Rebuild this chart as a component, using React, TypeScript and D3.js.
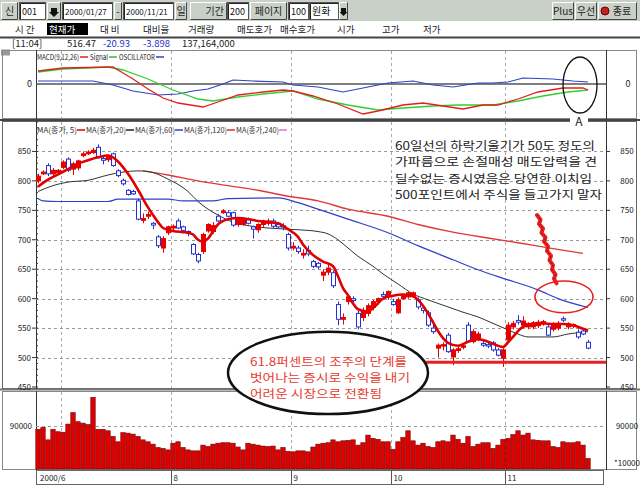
import React from 'react';
import * as d3 from 'd3';

// ---------- data ----------
const openP = [800,812,826,812,814,823,837,820,822,843,846,848,857,838,836,846,817,801,784,782,766,733,740,728,705,686,712,720,732,722,714,692,675,680,715,714,740,746,746,746,726,726,735,722,717,726,728,732,726,724,709,686,686,674,682,663,660,640,645,644,590,565,595,600,575,568,575,585,595,607,603,595,576,600,603,604,598,584,576,550,516,520,538,501,512,518,555,527,532,524,522,525,513,499,530,552,563,555,552,552,554,558,552,548,550,566,552,554,543,545,526];
const highP = [812,818,830,822,820,835,840,832,836,850,852,856,862,842,845,848,820,804,786,785,770,745,748,730,708,706,724,726,736,724,716,694,678,712,728,730,744,752,750,748,738,738,738,724,728,734,736,736,730,728,712,696,690,684,690,666,662,650,658,648,595,575,604,604,580,585,592,598,602,612,614,600,602,608,612,612,602,588,580,556,524,526,542,516,518,524,560,548,544,528,526,528,516,516,560,562,572,570,560,562,564,564,556,560,562,570,560,558,548,548,530];
const lowP = [796,810,808,808,812,820,815,810,818,840,844,846,838,828,832,824,806,792,775,776,733,728,735,718,686,678,708,716,718,714,706,674,660,676,712,710,730,744,738,722,722,724,726,702,712,722,724,720,720,716,682,682,676,668,672,652,650,630,640,618,555,556,590,594,548,562,570,580,590,600,598,588,574,598,600,602,582,575,552,540,500,512,508,487,508,514,525,524,528,518,516,510,502,484,526,548,556,552,548,548,550,554,536,544,546,560,548,550,532,538,514];
const closeP = [808,815,812,818,818,832,818,829,834,846,849,852,841,835,842,826,809,795,777,778,735,736,743,725,690,702,722,723,720,716,711,676,664,709,726,724,732,749,740,725,735,735,728,718,726,732,732,723,722,722,686,689,680,677,676,655,654,645,652,622,565,568,603,597,552,580,588,595,600,604,612,590,598,605,610,610,586,580,555,544,521,522,510,513,515,520,527,544,540,521,520,513,504,513,555,558,560,562,558,559,560,561,538,556,558,564,557,556,535,540,516];
const volume = [83000,87000,61000,83000,78000,77000,94000,118000,99000,96000,93000,150000,83000,83000,80000,68000,57000,76000,75000,73000,68000,61000,57000,52000,45000,43000,40000,54000,57000,45000,40000,38000,38000,50000,47000,52000,54000,55000,55000,54000,46000,40000,54000,52000,50000,48000,47000,48000,40000,45000,37000,36000,38000,38000,36000,46000,52000,54000,55000,61000,57000,59000,60000,61000,50000,55000,71000,64000,62000,57000,57000,41000,57000,66000,80000,59000,50000,54000,47000,45000,57000,59000,57000,71000,62000,54000,68000,47000,52000,55000,55000,43000,50000,62000,64000,72000,80000,71000,75000,61000,60000,59000,59000,47000,45000,57000,55000,55000,57000,50000,22000];

// moving averages: [day index, value]
const ma5: [number, number][] = [[0,790],[2,802],[4,811],[6,820],[8,829],[10,835],[12,840],[14,843],[15,840],[16,833],[18,812],[20,785],[22,755],[23,742],[24,730],[25,720],[27,715],[29,713],[30,712],[31,709],[32,700],[33,697],[34,702],[35,714],[36,726],[38,735],[40,737],[42,735],[44,732],[46,730],[48,728],[50,718],[52,705],[53,692],[55,674],[57,663],[59,655],[60,638],[61,618],[62,606],[63,592],[64,582],[66,578],[67,584],[69,600],[71,605],[73,607],[75,604],[76,598],[77,588],[78,575],[79,560],[80,545],[81,533],[82,525],[84,520],[86,527],[88,531],[90,527],[92,520],[93,518],[94,526],[95,535],[96,545],[97,552],[99,557],[101,558],[103,557],[105,557],[107,555],[109,549],[110,546]];
const ma20: [number, number][] = [[0,782],[3,792],[6,798],[10,801],[14,810],[17,815],[20,817],[22,816],[26,803],[30,782],[32,765],[34,752],[36,742],[39,730],[42,724],[46,720],[52,717],[56,714],[58,710],[60,700],[62,686],[64,672],[67,655],[69,642],[72,625],[75,608],[78,598],[82,586],[85,577],[88,569],[91,558],[94,547],[96,540],[98,535],[103,535],[106,540],[110,544]];
const ma60: [number, number][] = [[0,770],[1,766],[4,765],[14,765],[16,769],[26,769],[29,766],[35,766],[38,770],[48,771],[52,763],[56,752],[62,735],[70,712],[76,690],[83,666],[88,649],[94,632],[100,615],[104,600],[110,585]];
const ma120: [number, number][] = [[21,817],[26,810],[32,800],[38,792],[44,784],[50,774],[56,766],[62,752],[70,740],[76,726],[83,713],[90,703],[96,695],[103,685],[109,677]];

// MACD panel: [day index, value]
const macdLine: [number, number][] = [[0,13],[5,16],[15,17],[16,14],[19,5],[22,-5],[25,-14],[28,-19],[33,-23],[36,-18],[40,-11],[45,-8],[49,-6],[51,-7],[55,-12],[60,-20],[65,-30],[68,-27],[73,-21],[77,-19],[81,-22],[85,-25],[89,-21],[92,-21],[96,-15],[100,-8],[105,-4],[109,-4],[110,-6]];
const signalLine: [number, number][] = [[0,12],[5,15],[14,17],[17,14],[22,5],[27,-6],[32,-15],[35,-17],[40,-13],[45,-10],[51,-7],[56,-15],[62,-21],[68,-26],[73,-24],[79,-22],[84,-21],[91,-21],[96,-17],[101,-12],[106,-8],[110,-6]];
const oscLine: [number, number][] = [[0,3],[11,3],[15,-1],[19,-7],[24,-11],[28,-10],[31,-7],[34,-5],[37,0],[39,4],[43,3],[49,2],[51,-1],[56,-3],[61,-8],[66,-3],[70,1],[75,3],[79,-1],[83,-3],[88,1],[91,1],[94,2],[97,6],[103,5],[107,3],[110,2]];

const priceTicks = [850, 800, 750, 700, 650, 600, 550, 500, 450];
const monthGridIdx = [5, 27, 51, 71, 94];
const monthLabelIdx = [0, 27, 51, 71, 94];
const monthLabelText = ['2000/6', '8', '9', '10', '11'];
const maLegend = ['MA(종가, 5)', 'MA(종가,20)', 'MA(종가,60)', 'MA(종가,120)', 'MA(종가,240)'];
const maLegendColor = ['#e00000', '#222222', '#3040c8', '#e03030', '#e070c0'];
const macdLegend = ['MACD(9,12,26)', 'Signal', 'OSCILLATOR'];
const macdLegendColor = ['#e02020', '#30c030', '#3040c8'];

const headerLabels = ['시 간', '현재가', '대 비', '대비율', '거래량', '매도호가', '매수호가', '시가', '고가', '저가'];
const headerX = [15, 49, 100, 143, 188, 237, 280, 337, 382, 423];
const quoteValues = ['[11:04]', '516.47', '-20.93', '-3.898', '137,164,000'];
const quoteX = [12, 67, 103, 143, 182];

const noteLines = ['60일선의 하락기울기가 50도 정도의', '가파름으로 손절매성 매도압력을 견', '딜수없는 증시였음은 당연한 이치임', '500포인트에서 주식을 들고가지 말자'];
const noteLinePrice = [852.5, 824.5, 796.4, 768.4];
const noteWidths = [200, 202, 197, 207];
const redNoteLines = ['61.8퍼센트의 조주의 단계를', '벗어나는 증시로 수익을 내기', '어려운 시장으로 전환됨'];
const redNotePrice = [486.5, 458.5, 430.5];
const redNoteWidths = [157, 160, 132];
const supportPrice = 492;
const scribble: [number, number][] = [[99.8,742],[100.5,734],[100.2,727],[101.0,719],[100.7,712],[101.5,704],[101.2,697],[102.0,689],[101.8,681],[102.6,673],[102.3,665],[103.0,657],[102.8,649],[103.5,641],[103.2,634],[103.7,626]];

const RED = '#e80000';
const BLUE = '#2233d0';
const FONT = "'Noto Sans CJK KR', 'Noto Sans', sans-serif";
const TB = '#c8d0c8';

function Btn({ x, y, w, h, label, anchor = 'middle' }: any) {
  return (
    <g>
      <rect x={x} y={y} width={w} height={h} fill={TB} />
      <path d={`M${x + 0.5},${y + h - 0.5}V${y + 0.5}H${x + w - 0.5}`} stroke="#fff" fill="none" />
      <path d={`M${x + 0.5},${y + h - 0.5}H${x + w - 0.5}V${y + 0.5}`} stroke="#444" fill="none" />
      {label ? (
        <text x={anchor === 'middle' ? x + w / 2 : x + w - 3} y={y + h / 2 + 4} fontSize={10} textAnchor={anchor} fill="#222" fontFamily={FONT}>{label}</text>
      ) : null}
    </g>
  );
}

function Inp({ x, y, w, h, text, fs = 10 }: any) {
  return (
    <g>
      <rect x={x + 0.5} y={y + 0.5} width={w - 1} height={h - 1} fill="#fff" stroke="#555" />
      <path d={`M${x + 1.5},${y + h - 1}V${y + 1.5}H${x + w - 1}`} stroke="#222" fill="none" />
      <text x={x + 3} y={y + h / 2 + 4} fontSize={fs} fill="#111" fontFamily={FONT}>{text}</text>
    </g>
  );
}

export default function App() {
  const x = d3.scaleLinear().domain([0, 110]).range([38, 588]);
  const yP = d3.scaleLinear().domain([450, 900]).range([387, 122]);
  const yM = d3.scaleLinear().domain([-34, 34]).range([118, 50]);
  const yV = d3.scaleLinear().domain([0, 90000]).range([469, 426]);
  const L = 36, R = 606;

  const lineP = d3.line<[number, number]>().x(d => x(d[0])).y(d => yP(d[1])).curve(d3.curveMonotoneX);
  const lineM = d3.line<[number, number]>().x(d => x(d[0])).y(d => yM(d[1])).curve(d3.curveLinear);
  const lineS = d3.line<[number, number]>().x(d => x(d[0])).y(d => yP(d[1])).curve(d3.curveLinear);

  const minorTicks = d3.range(450, 901, 10);

  return (
    <svg width={640} height={492} style={{ position: 'absolute', left: 0, top: 0 }} fontFamily={FONT}>
      <rect width={640} height={492} fill="#fff" />

      {/* toolbar */}
      <rect x={0} y={0} width={640} height={21} fill={TB} />
      <Btn x={1} y={2} w={17} h={18} label="신" />
      <Inp x={19} y={2} w={27} h={18} text="001" fs={9} />
      <Btn x={47} y={2} w={14} h={18} />
      <path d="M51,8h6v4h2l-5,5l-5,-5h2z" fill="#111" />
      <Inp x={62} y={2} w={51} h={18} text="2000/01/27" fs={8} />
      <Btn x={114} y={2} w={8} h={18} label="-" />
      <Inp x={123} y={2} w={51} h={18} text="2000/11/21" fs={8} />
      <Btn x={175} y={2} w={12} h={18} label="일" />
      <Btn x={190} y={2} w={37} h={18} label="기간" anchor="end" />
      <Inp x={227} y={2} w={22} h={18} text="200" fs={9} />
      <Btn x={250} y={2} w={37} h={18} label="페이지" />
      <Inp x={288} y={2} w={21} h={18} text="100" fs={9} />
      <Inp x={309} y={2} w={30} h={18} text="원화" fs={10} />
      <Btn x={339} y={2} w={9} h={18} />
      <path d="M341,8h5v4h1.5l-4,4l-4,-4h1.5z" fill="#111" />
      <Btn x={552} y={2} w={22} h={18} label="Plus" />
      <Btn x={575} y={2} w={22} h={18} label="우선" />
      <Btn x={598} y={2} w={39} h={18} />
      <circle cx={605} cy={11} r={4} fill="#c02020" stroke="#600" />
      <text x={622} y={15} fontSize={10} textAnchor="middle" fill="#222">종료</text>

      {/* header rows */}
      <rect x={47} y={23} width={41} height={12} fill="#000" />
      {headerLabels.map((t, i) => (
        <text key={t} x={headerX[i]} y={33} fontSize={9.5} fill={i === 1 ? '#fff' : '#222'}>{t}</text>
      ))}
      <line x1={0} x2={640} y1={37.5} y2={37.5} stroke="#444" strokeWidth={2} />
      {quoteValues.map((t, i) => (
        <text key={t} x={quoteX[i]} y={47} fontSize={9.5} fill={i === 2 || i === 3 ? '#2030d0' : '#222'}>{t}</text>
      ))}

      {/* panel frames */}
      <rect x={1} y={49.5} width={9} height={6} fill="#999" />
      <rect x={2.5} y={50.5} width={634} height={68} fill="none" stroke="#888" />
      <rect x={2.5} y={121.5} width={634} height={267} fill="none" stroke="#666" />
      <line x1={0} x2={640} y1={120} y2={120} stroke="#444" strokeWidth={2} />
      <line x1={0} x2={640} y1={389.5} y2={389.5} stroke="#777" strokeWidth={2} />
      <rect x={2.5} y={391.5} width={634} height={78} fill="none" stroke="#888" />
      <rect x={L + 0.5} y={470.5} width={567} height={14} fill="none" stroke="#666" />
      {[[50, 119], [121, 389], [391, 470]].map(([a, b], k) => (
        <g key={k}>
          <line x1={L + 0.5} x2={L + 0.5} y1={a} y2={b} stroke="#333" />
          <line x1={R + 0.5} x2={R + 0.5} y1={a} y2={b} stroke="#333" />
        </g>
      ))}

      {/* vertical month grid */}
      {monthGridIdx.map(i => (
        <g key={i}>
          {[[51, 118], [122, 388], [392, 469]].map(([a, b], k) => (
            <line key={k} x1={Math.round(x(i) - 2.5) + 0.5} x2={Math.round(x(i) - 2.5) + 0.5} y1={a} y2={b} stroke="#aaa" strokeDasharray="3,3" />
          ))}
        </g>
      ))}

      {/* MACD panel */}
      <line x1={L} x2={R} y1={yM(0)} y2={yM(0)} stroke="#555" strokeWidth={1.5} />
      <text x={32} y={yM(0) + 3} fontSize={9} textAnchor="end" fill="#222">0</text>
      <text x={628} y={yM(0) + 3} fontSize={9} textAnchor="middle" fill="#222">0</text>
      <path d={lineM(oscLine) || ''} fill="none" stroke="#3040c8" strokeWidth={1.2} />
      <path d={lineM(signalLine) || ''} fill="none" stroke="#30d030" strokeWidth={1.3} />
      <path d={lineM(macdLine) || ''} fill="none" stroke="#e02020" strokeWidth={1.3} />
      {(() => {
        let cx = 37;
        return macdLegend.map((t, k) => {
          const w = [42, 18, 36][k];
          const g = (
            <g key={t}>
              <text x={cx} y={60} fontSize={7.5} fill="#222" textLength={w} lengthAdjust="spacingAndGlyphs">{t}</text>
              <line x1={cx + w + 1} x2={cx + w + 9} y1={57} y2={57} stroke={macdLegendColor[k]} strokeWidth={1.5} />
            </g>
          );
          cx += w + 11;
          return g;
        });
      })()}

      {/* price grid and axes */}
      {priceTicks.map(v => (
        <g key={v}>
          {v > 450 && <line x1={L} x2={R} y1={Math.round(yP(v)) + 0.5} y2={Math.round(yP(v)) + 0.5} stroke="#999" strokeDasharray="3,3" />}
          <line x1={32} x2={L} y1={yP(v)} y2={yP(v)} stroke="#333" />
          <line x1={R} x2={R + 4} y1={yP(v)} y2={yP(v)} stroke="#333" />
          <text x={31} y={yP(v) + 3} fontSize={8} textAnchor="end" fill="#222">{v}</text>
          <text x={627} y={yP(v) + 3} fontSize={8} textAnchor="middle" fill="#222">{v}</text>
        </g>
      ))}
      {minorTicks.map(v => (
        <line key={v} x1={L} x2={L + 2} y1={yP(v)} y2={yP(v)} stroke="#333" />
      ))}
      {(() => {
        let cx = 37;
        return maLegend.map((t, k) => {
          const w = k < 3 ? 40 : 43;
          const g = (
            <g key={t}>
              <text x={cx} y={133} fontSize={8} fill="#333" textLength={w} lengthAdjust="spacingAndGlyphs">{t}</text>
              <line x1={cx + w} x2={cx + w + 8} y1={130} y2={130} stroke={maLegendColor[k]} strokeWidth={1.5} />
            </g>
          );
          cx += w + 9;
          return g;
        });
      })()}

      {/* moving averages */}
      <path d={lineP(ma120) || ''} fill="none" stroke="#e03838" strokeWidth={1.4} />
      <path d={lineP(ma60) || ''} fill="none" stroke="#3040c8" strokeWidth={1.2} />
      <path d={lineP(ma20) || ''} fill="none" stroke="#333" strokeWidth={1} />

      {/* candles */}
      {openP.map((o, i) => {
        const c = closeP[i];
        const up = c >= o;
        const col = up ? RED : BLUE;
        const cx = Math.round(x(i)) + 0.5;
        const top = yP(Math.max(o, c));
        const bot = yP(Math.min(o, c));
        return (
          <g key={i}>
            <line x1={cx} x2={cx} y1={yP(highP[i])} y2={yP(lowP[i])} stroke={col} />
            <rect x={cx - 2} y={top} width={4} height={Math.max(1.5, bot - top)} fill={up ? RED : '#fff'} stroke={col} />
          </g>
        );
      })}
      <path d={lineP(ma5) || ''} fill="none" stroke="#e00000" strokeWidth={2.6} strokeLinejoin="round" />

      {/* volume */}
      <line x1={L} x2={R} y1={Math.round(yV(90000)) + 0.5} y2={Math.round(yV(90000)) + 0.5} stroke="#999" strokeDasharray="3,3" />
      {volume.map((v, i) => (
        <rect key={i} x={x(i) - 2.2} y={yV(v)} width={4.4} height={yV(0) - yV(v)} fill="#e00000" stroke="#6a0000" strokeWidth={0.6} />
      ))}
      <text x={32} y={yV(90000) + 3} fontSize={8} textAnchor="end" fill="#222">90000</text>
      <text x={627} y={yV(90000) + 3} fontSize={8} textAnchor="middle" fill="#222">90000</text>
      <text x={627} y={466} fontSize={8} textAnchor="middle" fill="#222">*10000</text>

      {/* month labels */}
      {monthLabelIdx.map((i, k) => {
        const px = k === 0 ? L + 2 : Math.round(x(i) - 2.5) + 0.5;
        return (
          <g key={k}>
            {k > 0 && <line x1={px} x2={px} y1={471} y2={484} stroke="#555" />}
            <text x={px + 2} y={481} fontSize={8} fill="#222">{monthLabelText[k]}</text>
          </g>
        );
      })}

      {/* annotations */}
      <line x1={x(77.5)} x2={R} y1={yP(supportPrice)} y2={yP(supportPrice)} stroke="#e82020" strokeWidth={3} />
      <ellipse cx={x(58)} cy={yP(474)} rx={x(20) - x(0)} ry={yP(474) - yP(544)} fill="#fff" stroke="#111" strokeWidth={2.5} />
      {redNoteLines.map((t, k) => (
        <text key={t} x={x(42.4)} y={yP(redNotePrice[k])} fontSize={11.5} fill="#e83a30" textLength={redNoteWidths[k]} lengthAdjust="spacingAndGlyphs">{t}</text>
      ))}
      {noteLines.map((t, k) => (
        <text key={t} x={x(71.4)} y={yP(noteLinePrice[k])} fontSize={11.5} fill="#222" textLength={noteWidths[k]} lengthAdjust="spacingAndGlyphs">{t}</text>
      ))}
      <path d={lineS(scribble) || ''} fill="none" stroke="#e82020" strokeWidth={4} strokeLinejoin="round" strokeLinecap="round" />
      <path d={lineS(scribble) || ''} fill="none" stroke="#a00000" strokeWidth={1} strokeDasharray="1.5,2" />
      <ellipse cx={x(105.2)} cy={yP(603)} rx={x(5.8) - x(0)} ry={yP(603) - yP(630)} fill="none" stroke="#e82020" strokeWidth={1.6} />
      <ellipse cx={x(108.4)} cy={yM(-1)} rx={x(3.4) - x(0)} ry={yM(-1) - yM(27)} fill="none" stroke="#111" strokeWidth={1.3} />
      <rect x={x(108.2) - 9} y={116} width={18} height={11} fill="#fff" />
      <text x={x(108.2)} y={126} fontSize={12} textAnchor="middle" fill="#222">A</text>
    </svg>
  );
}
